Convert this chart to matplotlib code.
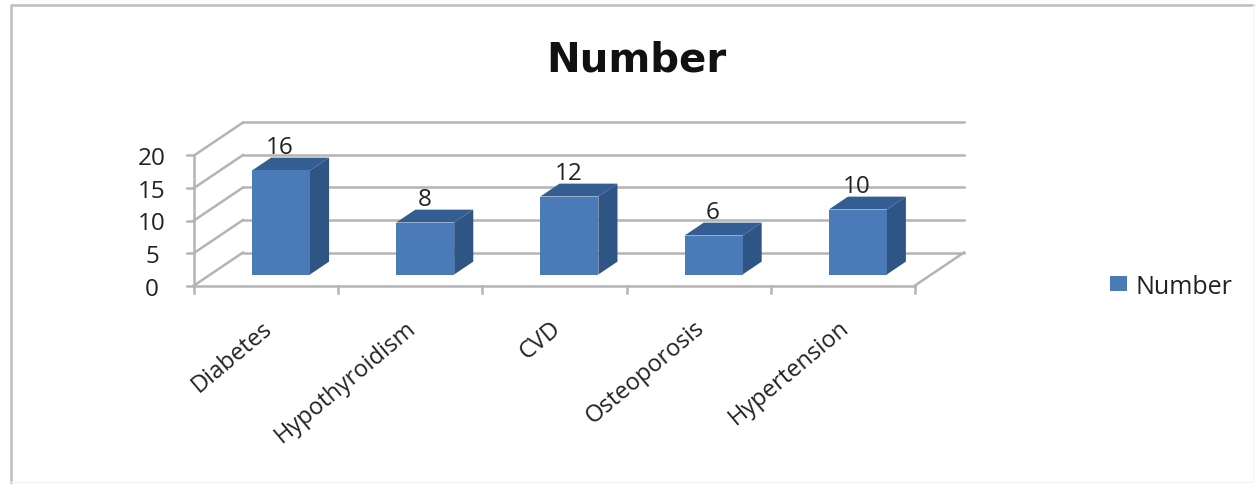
#!/usr/bin/env python3
"""Number of cases per condition, drawn as an oblique 3D column chart."""
import matplotlib
matplotlib.use('Agg')
import matplotlib.pyplot as plt
from matplotlib.lines import Line2D
from matplotlib.patches import Patch, Polygon

categories = ["Diabetes", "Hypothyroidism", "CVD", "Osteoporosis", "Hypertension"]
values = [16, 8, 12, 6, 10]
y_ticks = [0, 5, 10, 15, 20]
series_name = "Number"

W, H = 1260, 485
GRID = '#b4b4b4'
FRONT = '#4a7ab8'
SIDE = '#2f5585'
TOP = '#345d92'
TEXT = '#222222'

plt.rcParams['font.family'] = ['Open Sans', 'DejaVu Sans']

fig = plt.figure(figsize=(W / 100, H / 100), dpi=100, facecolor='white')

# plot box in pixels: floor front edge and the height of the 0-20 scale
left, right, bottom, top = 194, 915, 286.5, 156.5
ax = fig.add_axes([left / W, 1 - bottom / H, (right - left) / W, (bottom - top) / H])
ax.set_xlim(0, len(categories))
ax.set_ylim(0, 20)
ax.axis('off')

# oblique depth vector, converted from pixels to data units
depth_x = 49 / ((right - left) / len(categories))
depth_y = 33 / ((bottom - top) / 20)


def shift(x, y, d):
    return x + depth_x * d, y + depth_y * d


def line(xs, ys, **kw):
    ax.add_line(Line2D(xs, ys, color=GRID, lw=1.8, clip_on=False, **kw))


n = len(categories)
for v in y_ticks:
    bx0, by0 = shift(0, v, 1)
    bx1, by1 = shift(n, v, 1)
    line([bx0, bx1], [by0, by1])
    line([0, bx0], [v, by0])
    line([-0.05, 0], [v, v])

line([0, 0], [0, 20])
line([0, n], [0, 0])
bx, by = shift(n, 0, 1)
line([n, bx], [0, by])
for i in range(n + 1):
    line([i, i], [0, -1.2])

bar_w = 0.402
d0, d1 = 1 / 3, 1 / 3 + 0.39
for i, v in enumerate(values):
    c = i + 0.49
    x0, x1 = c - bar_w / 2, c + bar_w / 2
    p00 = shift(x0, 0, d0)
    p10 = shift(x1, 0, d0)
    p01 = shift(x0, v, d0)
    p11 = shift(x1, v, d0)
    q10 = shift(x1, 0, d1)
    q01 = shift(x0, v, d1)
    q11 = shift(x1, v, d1)
    ax.add_patch(Polygon([p10, q10, q11, p11], fc=SIDE, ec='none', clip_on=False, zorder=3))
    ax.add_patch(Polygon([p01, p11, q11, q01], fc=TOP, ec='none', clip_on=False, zorder=3))
    ax.add_patch(Polygon([p00, p10, p11, p01], fc=FRONT, ec='none', clip_on=False, zorder=3))
    ax.annotate(str(v), xy=shift(c, v, d0), xytext=(-1, 23), textcoords='offset pixels',
                ha='center', va='center', fontsize=17.5, color=TEXT, zorder=4,
                annotation_clip=False)

for v in y_ticks:
    ax.annotate(str(v), xy=(0, v), xytext=(-42, -3), textcoords='offset pixels',
                ha='center', va='center', fontsize=17.5, color=TEXT, annotation_clip=False)

for i, name in enumerate(categories):
    ax.annotate(name, xy=(i + 0.5, 0), xytext=(3, -39), textcoords='offset pixels',
                rotation=40, rotation_mode='anchor', ha='right', va='center',
                fontsize=17, color=TEXT, annotation_clip=False)

fig.text(636 / W, 1 - 60 / H, series_name, ha='center', va='center', fontsize=29,
         fontweight='bold', color='#111111', family='DejaVu Sans')

fig.legend(handles=[Patch(fc=FRONT, ec='none', label=series_name)],
           loc='center left', bbox_to_anchor=(1105 / W, 1 - 287 / H), frameon=False,
           fontsize=18, labelcolor=TEXT, handlelength=0.68, handleheight=0.52,
           handletextpad=0.35, borderpad=0.2, borderaxespad=0)

# outer chart frame, open at the bottom and nearly invisible on the right
fig.add_artist(Line2D([11 / W, 11 / W, 1253 / W], [0, 1 - 6 / H, 1 - 6 / H],
                      color='#bdbdbd', lw=1.8, transform=fig.transFigure))
fig.add_artist(Line2D([1253 / W, 1253 / W, 11 / W], [1 - 6 / H, 1 - 483 / H, 1 - 483 / H],
                      color='#f4f4f4', lw=1, transform=fig.transFigure))

fig.savefig('out.png', dpi=100, facecolor='white')
plt.close(fig)
